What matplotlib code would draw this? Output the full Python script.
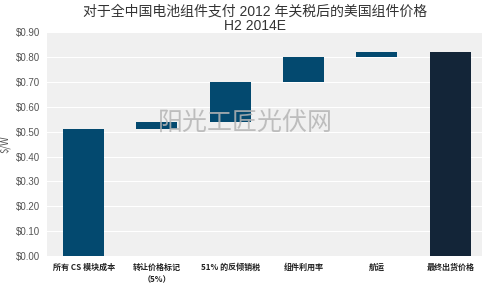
import numpy as np
import matplotlib.pyplot as plt

plt.rcParams['font.family'] = ['Noto Sans CJK SC', 'DejaVu Sans']

# waterfall steps ($/W)
categories = ["所有 CS 模块成本", "转让价格标记\n（5%）", "51% 的反倾销税",
              "组件利用率", "航运", "最终出货价格"]
steps = [0.51, 0.03, 0.16, 0.10, 0.02]
final_price = 0.82
yticks = [0.0, 0.1, 0.2, 0.3, 0.4, 0.5, 0.6, 0.7, 0.8, 0.9]

bar_color = "#03496f"
final_color = "#132538"

bottoms = np.concatenate([[0], np.cumsum(steps)[:-1]])
heights = list(steps) + [final_price]
bottoms = list(bottoms) + [0]
colors = [bar_color] * len(steps) + [final_color]

fig = plt.figure(figsize=(4.82, 2.87), dpi=100)
ax = fig.add_axes([0.0975, 0.108, 0.905, 0.78])
ax.set_facecolor("#f0f0f0")

x = np.arange(len(categories))
ax.bar(x, heights, bottom=bottoms, width=0.56, color=colors, zorder=3)

ax.set_ylim(0, 0.9)
ax.set_xlim(-0.5, 5.45)
ax.set_yticks(yticks)
ax.set_yticklabels(["$%.2f" % v for v in yticks], color="#555555", fontsize=7,
                   family=['Liberation Sans', 'DejaVu Sans'])
ax.yaxis.grid(True, color="white", linewidth=0.8, zorder=0)
ax.set_xticks(x)
ax.set_xticklabels(categories, fontsize=5.8, fontweight="bold", color="#222222",
                   linespacing=1.5)
ax.tick_params(length=0, pad=5)
for s in ax.spines.values():
    s.set_visible(False)
ax.set_ylabel("$/W", fontsize=7, color="#555555", labelpad=4)

fig.text(0.53, 0.983, "对于全中国电池组件支付 2012 年关税后的美国组件价格\nH2 2014E",
         ha="center", va="top", fontsize=10, color="#333333", linespacing=1.0,
         family=['Liberation Sans', 'Noto Sans CJK SC'])

# watermark
ax.text(2.2, 0.535, "阳光工匠光伏网", ha="center", va="center", fontsize=18,
        color="#b5b5b5", alpha=0.85, zorder=4)

fig.savefig("out.png", dpi=100)
